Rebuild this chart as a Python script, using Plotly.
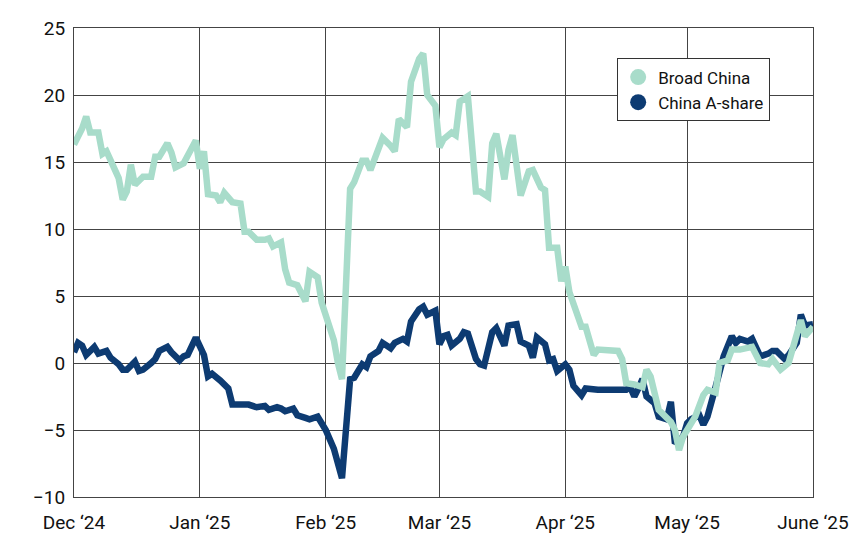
import plotly.graph_objects as go
import pandas as pd

start = pd.Timestamp("2024-12-01")
broad_days = [0,2,3,4,6,7,8,10,11,12,13,14,15,17,19,20,21,23,24,25,27,30,31,32,33,35,36,37,39,41,42,43,45,47,48,49,51,52,53,55,57,58,60,61,62,64,65,66,68,69,71,72,73,75,76,78,79,80,82,83,85,86,87,89,90,91,93,94,95,97,99,100,102,103,104,106,107,108,110,112,113,115,116,117,119,120,121,122,123,125,126,128,129,130,132,134,135,136,138,140,141,142,144,146,147,148,149,150,152,153,155,156,158,159,161,162,164,166,167,169,171,172,174,176,177,179,180,182]
broad_vals = [16.3,17.5,18.4,17.2,17.2,15.6,15.8,14.5,13.8,12.2,12.8,14.8,13.3,13.9,13.9,15.4,15.4,16.4,15.7,14.6,14.9,16.6,14.5,15.8,12.6,12.5,12.0,12.7,12.0,11.9,9.8,9.8,9.2,9.2,9.3,8.7,9.0,7.0,6.0,5.8,4.6,6.8,6.4,4.5,3.5,1.7,0.0,-1.2,13.0,13.5,15.1,15.1,14.4,16.2,16.8,16.2,15.8,18.2,17.6,21.0,22.7,23.1,20.0,19.2,16.1,16.7,17.2,17.0,19.5,19.9,12.8,12.8,12.4,16.4,17.1,13.7,15.9,17.0,12.5,14.3,14.4,13.1,12.9,8.6,8.6,6.1,7.2,5.3,4.5,2.7,2.7,0.6,1.0,1.0,0.9,0.9,0.3,-1.5,-1.6,-1.8,-0.5,-1.0,-3.5,-4.0,-4.4,-5.0,-6.5,-5.5,-4.5,-4.0,-2.4,-2.0,-2.2,0.0,0.2,1.0,1.0,1.2,1.2,0.0,-0.1,0.3,-0.5,0.0,1.0,3.2,2.0,2.7]
ashare_days = [0,1,2,3,5,6,8,9,11,12,13,15,16,17,19,20,21,23,24,26,27,28,30,31,32,33,34,36,38,39,41,43,45,47,48,50,51,52,54,55,57,58,60,61,62,64,65,66,68,69,71,72,73,75,76,78,79,81,82,83,85,86,87,89,90,91,92,93,95,96,97,99,100,101,103,104,106,107,109,110,112,113,114,116,117,118,119,121,122,123,125,126,129,132,134,136,137,138,139,140,141,143,144,146,147,148,150,151,152,154,155,156,158,159,160,162,163,164,166,167,169,171,172,173,175,176,178,179,180,182]
ashare_vals = [0.8,1.5,1.3,0.6,1.2,0.7,0.9,0.4,-0.1,-0.5,-0.5,0.1,-0.6,-0.5,0.0,0.3,0.9,1.2,0.8,0.2,0.5,0.6,1.9,1.2,0.6,-1.0,-0.8,-1.3,-1.9,-3.1,-3.1,-3.1,-3.3,-3.2,-3.5,-3.3,-3.4,-3.6,-3.4,-3.9,-4.1,-4.2,-4.0,-4.4,-5.0,-6.4,-7.7,-8.6,-1.2,-1.1,-0.1,-0.3,0.5,0.9,1.5,1.1,1.5,1.8,1.6,3.1,4.0,4.2,3.6,3.9,1.4,2.0,2.1,1.3,1.8,2.3,2.2,0.3,-0.1,-0.2,2.3,2.6,1.3,2.8,2.9,1.6,1.3,0.4,1.9,1.4,0.2,0.3,-0.6,-0.1,-0.5,-1.7,-2.4,-1.9,-2.0,-2.0,-2.0,-2.0,-1.8,-2.5,-1.9,-1.2,-2.5,-3.0,-4.0,-4.2,-2.9,-6.0,-5.5,-4.5,-4.2,-3.9,-4.6,-4.0,-1.8,-0.8,0.5,2.0,1.5,1.8,1.6,1.8,0.5,0.7,0.9,0.9,0.3,0.6,1.5,3.6,2.8,2.9]
tick_dates = ["2024-12-01","2025-01-01","2025-02-01","2025-03-01","2025-04-01","2025-05-01","2025-06-01"]
tick_labels = ["Dec \u201824","Jan \u201825","Feb \u201825","Mar \u201825","Apr \u201825","May \u201825","June \u201825"]

LIGHT = "#a8dcca"
DARK = "#0d3b72"
bx = [start + pd.Timedelta(days=d) for d in broad_days]
ax = [start + pd.Timedelta(days=d) for d in ashare_days]

fig = go.Figure()
fig.add_trace(go.Scatter(x=ax, y=ashare_vals, mode="lines", line=dict(color=DARK, width=6.5), showlegend=False))
fig.add_trace(go.Scatter(x=bx, y=broad_vals, mode="lines", line=dict(color=LIGHT, width=6.5), showlegend=False))
fig.add_trace(go.Scatter(x=[None], y=[None], mode="markers", marker=dict(color=LIGHT, size=24), name="Broad China"))
fig.add_trace(go.Scatter(x=[None], y=[None], mode="markers", marker=dict(color=DARK, size=24), name="China A-share"))

fig.update_layout(
    width=862, height=534, margin=dict(l=66, r=57, t=20, b=45),
    plot_bgcolor="white", paper_bgcolor="white",
    font=dict(family="Roboto", size=19, color="#111"),
    legend=dict(x=0.735, y=0.935, xanchor="left", yanchor="top", bordercolor="#333", borderwidth=1,
                bgcolor="white", font=dict(size=17), tracegroupgap=6),
)
fig.update_xaxes(type="date", range=[tick_dates[0], tick_dates[-1]], tickvals=tick_dates, ticktext=tick_labels,
                 automargin=False, ticklabelstandoff=8,
                 showgrid=True, gridcolor="#444", gridwidth=1, showline=True, linecolor="#444", mirror=True, ticks="")
fig.update_yaxes(range=[-10, 25], dtick=5, showgrid=True, gridcolor="#444", gridwidth=1, zeroline=False,
                 automargin=False, ticklabelstandoff=4,
                 showline=True, linecolor="#444", mirror=True, ticks="")
fig.write_html("out.html")
